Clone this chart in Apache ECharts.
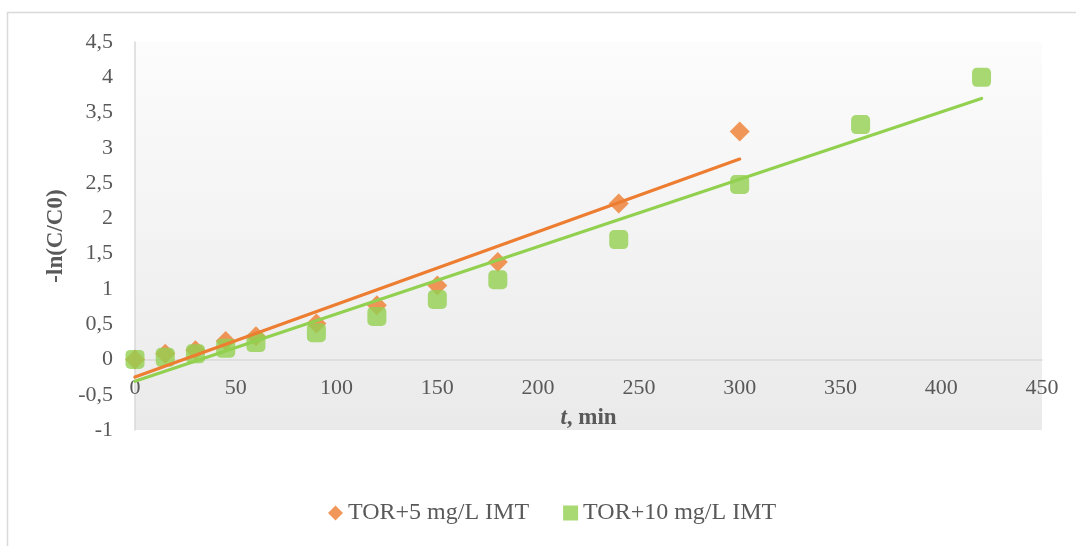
<!DOCTYPE html>
<html>
<head>
<meta charset="utf-8">
<script src="https://cdn.jsdelivr.net/npm/echarts@6/dist/echarts.min.js"></script>
<style>html,body{margin:0;padding:0;background:#fff;}#c{width:1076px;height:546px;}</style>
</head>
<body>
<div id="c"></div>
<script>
var timesA = [0, 15, 30, 45, 60, 90, 120, 150, 180, 240, 300];
var valuesA = [0, 0.08, 0.13, 0.26, 0.33, 0.51, 0.77, 1.05, 1.38, 2.21, 3.23];
var timesB = [0, 15, 30, 45, 60, 90, 120, 150, 180, 240, 300, 360, 420];
var valuesB = [0, 0.03, 0.08, 0.16, 0.24, 0.38, 0.61, 0.85, 1.13, 1.70, 2.48, 3.33, 4.00];
var trendA_x = [0, 300];
var trendA_y = [-0.25, 2.84];
var trendB_x = [0, 420];
var trendB_y = [-0.31, 3.70];
var seriesNames = ['TOR+5 mg/L IMT', 'TOR+10 mg/L IMT'];

function zip(a, b) { return a.map(function (v, i) { return [v, b[i]]; }); }

var FONT = '"Liberation Serif", "Times New Roman", serif';
var TXT = '#595959';
var ORANGE = '#ED7D31';
var GREEN = '#92D050';

var Y_MIN = -1, Y_MAX = 4.5;
var GRID_TOP = 42, GRID_BOTTOM = 116, H = 546;
var plotH = H - GRID_TOP - GRID_BOTTOM;
// shift x axis up so it sits on y = 0
var zeroOffset = -plotH * (0 - Y_MIN) / (Y_MAX - Y_MIN);

var chart = echarts.init(document.getElementById('c'), null, {renderer: 'canvas'});
chart.setOption({
  animation: false,
  textStyle: {fontFamily: FONT, color: TXT},
  graphic: [{
    type: 'rect', z: -10, silent: true,
    shape: {x: 7.5, y: 12.5, width: 1200, height: 700},
    style: {fill: 'none', stroke: '#d9d9d9', lineWidth: 1.5}
  }],
  grid: {
    left: 135, right: 34, top: GRID_TOP, bottom: GRID_BOTTOM,
    show: true, borderWidth: 0,
    backgroundColor: {
      type: 'linear', x: 0, y: 0, x2: 0, y2: 1,
      colorStops: [{offset: 0, color: '#fcfcfc'}, {offset: 1, color: '#eaeaea'}]
    }
  },
  legend: {
    bottom: 16, left: 323, itemGap: 34, itemWidth: 15, itemHeight: 15,
    textStyle: {fontFamily: FONT, fontSize: 24, color: TXT},
    data: [{name: seriesNames[0], icon: 'diamond'}, {name: seriesNames[1], icon: 'rect'}]
  },
  xAxis: {
    type: 'value', min: 0, max: 450, interval: 50,
    offset: zeroOffset,
    axisLine: {show: true, onZero: false, lineStyle: {color: '#d9d9d9', width: 1.5}},
    axisTick: {show: false},
    splitLine: {show: false},
    axisLabel: {fontFamily: FONT, fontSize: 22, color: TXT, margin: 18},
    name: '{i|t}{b|, min}',
    nameLocation: 'middle', nameGap: 47,
    nameTextStyle: {
      rich: {
        i: {fontFamily: FONT, fontSize: 23, fontWeight: 'bold', fontStyle: 'italic', color: TXT},
        b: {fontFamily: FONT, fontSize: 23, fontWeight: 'bold', color: TXT}
      }
    }
  },
  yAxis: {
    type: 'value', min: Y_MIN, max: Y_MAX, interval: 0.5,
    axisLine: {show: true, onZero: false, lineStyle: {color: '#d9d9d9', width: 1.5}},
    axisTick: {show: false},
    splitLine: {show: false},
    axisLabel: {
      fontFamily: FONT, fontSize: 22, color: TXT, margin: 22,
      formatter: function (v) { return String(v).replace('.', ','); }
    },
    name: '-ln(C/C0)',
    nameLocation: 'middle', nameGap: 67,
    nameTextStyle: {fontFamily: FONT, fontSize: 23, fontWeight: 'bold', color: TXT}
  },
  series: [
    {
      name: seriesNames[0], type: 'scatter', symbol: 'diamond', symbolSize: 20,
      itemStyle: {color: ORANGE}, data: zip(timesA, valuesA), z: 2
    },
    {
      name: seriesNames[1], type: 'scatter', symbol: 'roundRect', symbolSize: 19,
      itemStyle: {color: GREEN}, data: zip(timesB, valuesB), z: 3
    },
    {
      name: 'trendA', type: 'line', showSymbol: false, symbol: 'none',
      lineStyle: {color: ORANGE, width: 3.2, cap: 'round'},
      data: zip(trendA_x, trendA_y), z: 4
    },
    {
      name: 'trendB', type: 'line', showSymbol: false, symbol: 'none',
      lineStyle: {color: GREEN, width: 3.2, cap: 'round'},
      data: zip(trendB_x, trendB_y), z: 4
    }
  ]
});
</script>
</body>
</html>
